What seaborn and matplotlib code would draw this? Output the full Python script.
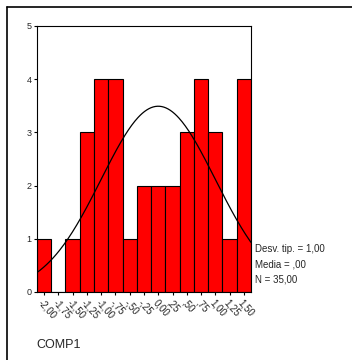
import matplotlib
matplotlib.use("Agg")
import matplotlib.pyplot as plt
import seaborn as sns
import numpy as np
import pandas as pd

# bin centres and counts
centers = [-2.00, -1.75, -1.50, -1.25, -1.00, -0.75, -0.50, -0.25,
           0.00, 0.25, 0.50, 0.75, 1.00, 1.25, 1.50]
counts = [1, 0, 1, 3, 4, 4, 1, 2, 2, 2, 3, 4, 3, 1, 4]
tick_labels = ["-2,00", "-1,75", "-1,50", "-1,25", "-1,00", "-,75", "-,50", "-,25",
               "0,00", ",25", ",50", ",75", "1,00", "1,25", "1,50"]
y_ticks = [0, 1, 2, 3, 4, 5]
stats_lines = ["Desv. tip. = 1,00", "Media = ,00", "N = 35,00"]
mean, sd, n = 0.0, 1.0, 35
xlabel = "COMP1"

sns.set_style("white")
plt.rcParams["font.family"] = ["Liberation Sans", "DejaVu Sans"]

df = pd.DataFrame({"COMP1": centers, "count": counts})
width = 0.25
lo, hi = centers[0] - width / 2, centers[-1] + width / 2

fig = plt.figure(figsize=(3.52, 3.60), dpi=100)
ax = fig.add_axes([0.105, 0.189, 0.608, 0.739])

sns.histplot(data=df, x="COMP1", weights="count", binwidth=width,
             binrange=(lo, hi), ax=ax, color="#ff0000", alpha=1,
             edgecolor="black", linewidth=0.8)

# normal curve scaled to counts
xs = np.linspace(lo, hi, 200)
ys = n * width * np.exp(-0.5 * ((xs - mean) / sd) ** 2) / (sd * np.sqrt(2 * np.pi))
sns.lineplot(x=xs, y=ys, ax=ax, color="black", linewidth=0.9)

ax.set_xlim(lo, hi)
ax.set_ylim(0, 5)
ax.set_yticks(y_ticks)
ax.set_yticklabels([str(t) for t in y_ticks], fontsize=6.5)
ax.set_xticks(centers)
ax.set_xticklabels(tick_labels, fontsize=7, rotation=-48, ha="left",
                   va="top", rotation_mode="anchor")
ax.tick_params(axis="both", direction="out", length=2, width=0.8, pad=2,
               bottom=True, left=True, color="black")
ax.set_xlabel("")
ax.set_ylabel("")
for s in ax.spines.values():
    s.set_color("black")
    s.set_linewidth(0.8)

# stats box at right
for i, line in enumerate(stats_lines):
    fig.text(255 / 352, 1 - (249 + 15.5 * i) / 360, line, fontsize=7,
             ha="left", va="center")

fig.text(36 / 352, 1 - 345 / 360, xlabel, fontsize=9, ha="left", va="center")

# outer frame lines (top and left)
fig.add_artist(plt.Line2D([7 / 352, 1], [1 - 7 / 360, 1 - 7 / 360],
                          color="black", linewidth=1.2))
fig.add_artist(plt.Line2D([7 / 352, 7 / 352], [0, 1 - 7 / 360],
                          color="black", linewidth=1.2))

plt.savefig("out.png", dpi=100)
plt.close()
